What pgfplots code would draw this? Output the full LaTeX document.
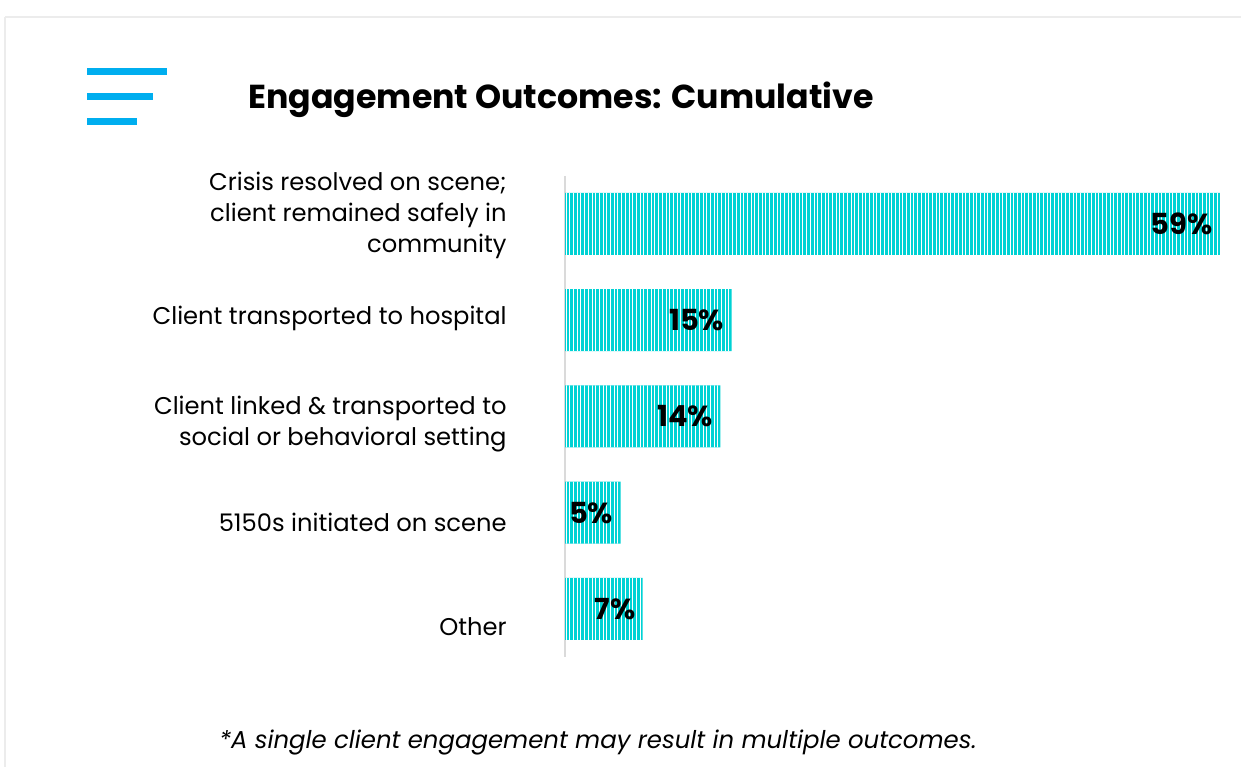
\documentclass[border=0pt]{standalone}
\usepackage{fontspec}
\setmainfont{Poppins}
\usepackage{pgfplots}
\pgfplotsset{compat=1.18}
\usetikzlibrary{patterns.meta}
\definecolor{barcyan}{RGB}{0,210,212}
\definecolor{iconblue}{RGB}{0,174,239}
\definecolor{framegray}{RGB}{236,236,236}
\definecolor{axisgray}{RGB}{218,218,218}

\begin{document}
\begin{tikzpicture}
  \begin{scope}[x=0.5pt,y=-0.5pt]
    \useasboundingbox[fill=white] (0,0) rectangle (1241,766);
    \draw[framegray, line width=1pt] (5,17) -- (1260,17);
    \draw[framegray, line width=1pt] (5,17) -- (5,780);
    % menu icon
    \draw[iconblue, line width=3.5pt] (87,71) -- (167,71);
    \draw[iconblue, line width=3.5pt] (87,96) -- (153,96);
    \draw[iconblue, line width=3.5pt] (87,121) -- (137,121);
    \node[font=\bfseries\fontsize{16.6}{20}\selectfont] at (561,100) {Engagement Outcomes: Cumulative};
    \node[font=\itshape\fontsize{12.2}{14}\selectfont] at (598,742) {*A single client engagement may result in multiple outcomes.};
  \end{scope}

  \begin{axis}[
    at={(282.5pt,-328.5pt)}, anchor=south west,
    scale only axis,
    width=333pt, height=240.6pt,
    xmin=0, xmax=60,
    ymin=-0.5, ymax=4.5,
    y dir=reverse,
    axis x line=none,
    axis y line*=left,
    y axis line style={draw=axisgray, line width=1pt},
    % label rows sit a little off the bar centres, as in the original
    ytick={-0.085,0.985,2.08,3.10,4.18},
    major tick length=0pt,
    yticklabels={{Crisis resolved on scene;\\client remained safely in\\community},
                 {Client transported to hospital},
                 {Client linked \& transported to\\social or behavioral setting},
                 {5150s initiated on scene},
                 {Other}},
    yticklabel style={align=right, anchor=east, inner sep=0pt, xshift=-29pt,
                      font=\fontsize{12.1}{15.5}\selectfont},
    xbar, bar width=31pt, bar shift=0pt,
    point meta=x,
    nodes near coords={\pgfmathprintnumber[assume math mode=true]{\pgfplotspointmeta}\%},
    nodes near coords style={anchor=east, xshift=-2.5pt, inner sep=1pt, text=black,
                             font=\bfseries\fontsize{14.5}{15}\selectfont},
    clip=false,
  ]
  \addplot[fill=barcyan, draw=none,
           postaction={pattern={Lines[angle=90,distance=1.85pt,line width=0.5pt]}, pattern color=white}]
    coordinates {(59,0) (15,1) (14,2) (5,3) (7,4)};
  \end{axis}
\end{tikzpicture}
\end{document}
